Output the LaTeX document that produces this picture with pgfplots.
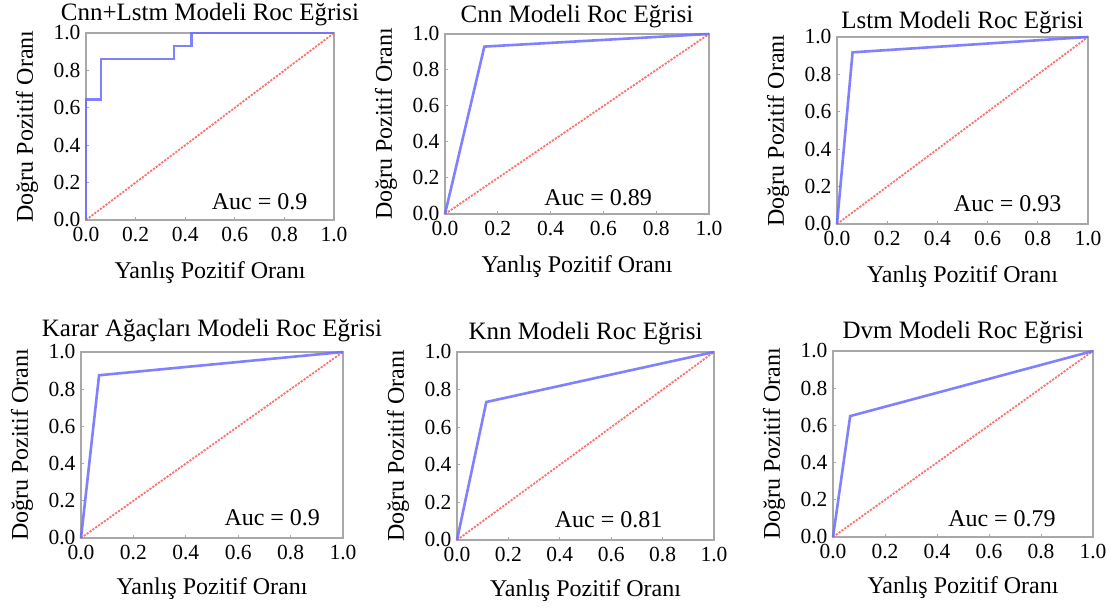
\documentclass[border=0pt]{standalone}
\usepackage{pgfplots}
\pgfplotsset{compat=1.18}
\usepackage{fontspec}
\setmainfont{Liberation Serif}
\definecolor{rocblue}{HTML}{6F6FFF}
\definecolor{rocred}{HTML}{FF7070}
\definecolor{framegray}{HTML}{A8A8A8}
\tikzset{auc/.style={font=\fontsize{24}{24}\selectfont}}
\pgfplotsset{
  rocax/.style={
    scale only axis,
    xmin=0, xmax=1, ymin=0, ymax=1,
    xtick={0,0.2,0.4,0.6,0.8,1.0},
    ytick={0,0.2,0.4,0.6,0.8,1.0},
    xticklabels={0.0,0.2,0.4,0.6,0.8,1.0},
    yticklabels={0.0,0.2,0.4,0.6,0.8,1.0},
    tick label style={font=\fontsize{21.5}{21.5}\selectfont, black},
    xticklabel style={yshift=-4pt},
    yticklabel style={xshift=-2pt},
    tick align=inside,
    xtick pos=bottom, ytick pos=left,
    major tick length=3pt,
    tick style={framegray, line width=1pt},
    axis line style={framegray, line width=1.8pt},
    title style={font=\fontsize{25}{25}\selectfont, yshift=-2pt},
    label style={font=\fontsize{24}{24}\selectfont},
    xlabel={Yanlış Pozitif Oranı},
    ylabel={Doğru Pozitif Oranı},
    xlabel style={at={(axis description cs:0.5,0)}, anchor=center, yshift=-53pt},
    ylabel style={at={(axis description cs:0,0.5)}, anchor=center, yshift=59pt},
    clip=false,
  },
  rocline/.style={rocblue, line width=2.6pt, opacity=0.88, line join=miter},
  diag/.style={rocred, line width=1.8pt, dash pattern=on 2.2pt off 1.3pt},
}
\begin{document}
\begin{tikzpicture}[x=1pt,y=1pt]
\useasboundingbox (0,0) rectangle (1111,612);

% Panel 1: Cnn+Lstm
\begin{axis}[rocax, at={(86pt,392pt)}, anchor=south west, width=248pt, height=187pt,
  title={Cnn+Lstm Modeli Roc Eğrisi}]
\addplot[diag] coordinates {(0,0) (1,1)};
\addplot[rocline] coordinates {(0,0) (0,0.645) (0.06,0.645) (0.06,0.86) (0.355,0.86) (0.355,0.93) (0.425,0.93) (0.425,1.0) (1,1)};
\node[auc] at (axis cs:0.70,0.096) {Auc = 0.9};
\end{axis}

% Panel 2: Cnn
\begin{axis}[rocax, at={(445pt,398pt)}, anchor=south west, width=264pt, height=180pt,
  title={Cnn Modeli Roc Eğrisi}, title style={yshift=-1pt}]
\addplot[diag] coordinates {(0,0) (1,1)};
\addplot[rocline] coordinates {(0,0) (0.149,0.93) (1,1)};
\node[auc] at (axis cs:0.58,0.09) {Auc = 0.89};
\end{axis}

% Panel 3: Lstm
\begin{axis}[rocax, at={(837pt,388pt)}, anchor=south west, width=251pt, height=187pt,
  title={Lstm Modeli Roc Eğrisi}, title style={yshift=-4pt}]
\addplot[diag] coordinates {(0,0) (1,1)};
\addplot[rocline] coordinates {(0,0) (0.062,0.918) (1,1)};
\node[auc] at (axis cs:0.68,0.11) {Auc = 0.93};
\end{axis}

% Panel 4: Karar Agaclari
\begin{axis}[rocax, at={(81pt,74pt)}, anchor=south west, width=262pt, height=186pt,
  title={Karar Ağaçları Modeli Roc Eğrisi}, title style={yshift=3pt},
  xlabel style={yshift=2pt}]
\addplot[diag] coordinates {(0,0) (1,1)};
\addplot[rocline] coordinates {(0,0) (0.069,0.875) (1,1)};
\node[auc] at (axis cs:0.73,0.11) {Auc = 0.9};
\end{axis}

% Panel 5: Knn
\begin{axis}[rocax, at={(457pt,72pt)}, anchor=south west, width=257pt, height=188pt,
  title={Knn Modeli Roc Eğrisi}, xlabel style={yshift=2pt}]
\addplot[diag] coordinates {(0,0) (1,1)};
\addplot[rocline] coordinates {(0,0) (0.114,0.734) (1,1)};
\node[auc] at (axis cs:0.59,0.106) {Auc = 0.81};
\end{axis}

% Panel 6: Dvm
\begin{axis}[rocax, at={(833pt,75pt)}, anchor=south west, width=260pt, height=186pt,
  title={Dvm Modeli Roc Eğrisi}, xlabel style={yshift=2pt}]
\addplot[diag] coordinates {(0,0) (1,1)};
\addplot[rocline] coordinates {(0,0) (0.066,0.65) (1,1)};
\node[auc] at (axis cs:0.65,0.10) {Auc = 0.79};
\end{axis}
\end{tikzpicture}
\end{document}
